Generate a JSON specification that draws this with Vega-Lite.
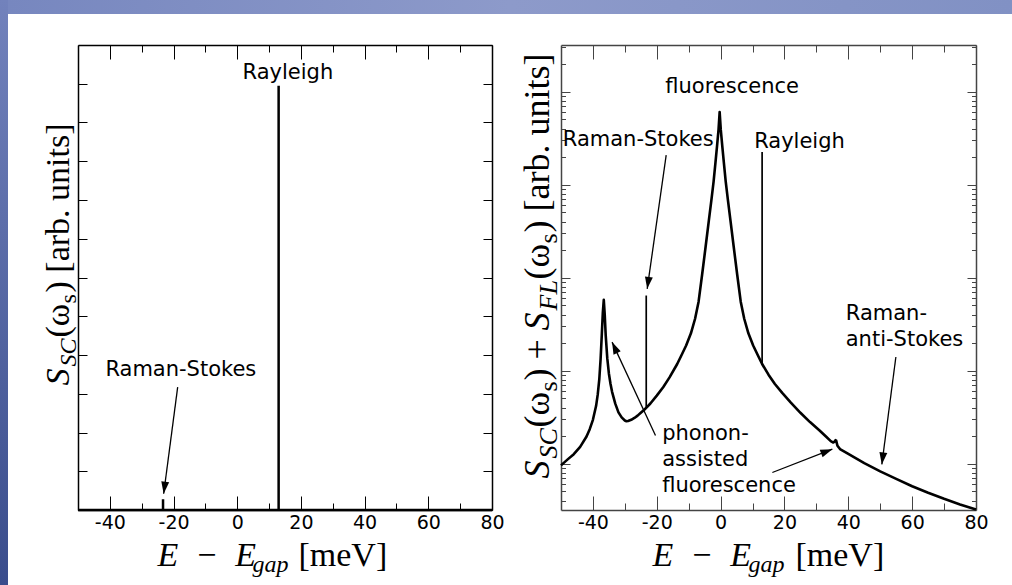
{
"$schema":"https://vega.github.io/schema/vega-lite/v6.json",
"padding":0,
"background":"#ffffff",
"config":{
  "view":{"stroke":null},
  "axis":{"grid":false,"labelFont":"DejaVu Sans","labelFontSize":19,"labelColor":"#000000","tickColor":"#000000","tickWidth":1,"domainColor":"#000000","domainWidth":1.5,"titleFont":"Liberation Serif","titleFontSize":34,"titleColor":"#000000","titleFontWeight":"normal","labelFlush":false,"labelOverlap":false},
  "text":{"font":"DejaVu Sans","fontSize":21,"color":"#000000"}
},
"bounds":"flush",
"spacing":0,
"hconcat":[
  {"width":8,"height":585,"data":{"values":[]},"mark":{"type":"point","opacity":0},
   "view":{"stroke":null,"fill":{"gradient":"linear","x1":0,"y1":0,"x2":0,"y2":1,"stops":[{"offset":0,"color":"#7282bc"},{"offset":1,"color":"#3a4d8c"}]}}},
  {"bounds":"flush","spacing":31,"vconcat":[
    {"width":1004,"height":14,"data":{"values":[]},"mark":{"type":"point","opacity":0},
     "view":{"stroke":null,"fill":{"gradient":"linear","x1":0,"y1":0,"x2":1,"y2":0,"stops":[{"offset":0,"color":"#7787bf"},{"offset":0.5,"color":"#8d9aca"},{"offset":1,"color":"#8191c4"}]}}},
    {"bounds":"flush","spacing":69,"hconcat":[
      {"width":1,"height":1,"data":{"values":[]},"mark":{"type":"point","opacity":0}},
      {"width":414,"height":465,
       "resolve":{"axis":{"x":"independent","y":"independent"}},
       "layer":[
        {"data":{"values":[{"i":0,"E":-50,"S":0},{"i":1,"E":-23.3,"S":0},{"i":2,"E":-23.3,"S":0.28},{"i":3,"E":-23.3,"S":0},{"i":4,"E":13,"S":0},{"i":5,"E":13,"S":10.95},{"i":6,"E":13,"S":0},{"i":7,"E":80,"S":0}]},
         "mark":{"type":"line","color":"#000000","strokeWidth":2.5},
         "encoding":{
           "x":{"field":"E","type":"quantitative","scale":{"domain":[-50,80],"nice":false,"zero":false},
                "axis":{"orient":"bottom","values":[-40,-30,-20,-10,0,10,20,30,40,50,60,70,80],"tickSize":{"condition":{"test":"datum.value % 20 === 0","value":-14},"value":-7},"labelExpr":"datum.value % 20 === 0 ? '' + datum.value : ''","labelPadding":17,"labelBaseline":"top","title":"E\u2002\u2212\u2002E","titleFontStyle":"italic","titleX":79,"titleY":55,"titleAlign":"left","titleBaseline":"alphabetic","titleAngle":0}},
           "y":{"field":"S","type":"quantitative","scale":{"domain":[0,12],"nice":false,"zero":false},
                "axis":{"orient":"left","values":[0,1,2,3,4,5,6,7,8,9,10,11,12],"tickSize":-9,"labels":false,"title":"S","titleFontStyle":"italic","titleX":-10,"titleY":340,"titleAngle":270,"titleAlign":"left","titleBaseline":"alphabetic"}},
           "order":{"field":"i","type":"quantitative"}}},
        {"data":{"values":[{"E":0,"S":1}]},"mark":{"type":"point","opacity":0},
         "encoding":{
           "x":{"field":"E","type":"quantitative","scale":{"domain":[-50,80],"nice":false,"zero":false},
                "axis":{"orient":"top","values":[-40,-30,-20,-10,0,10,20,30,40,50,60,70,80],"tickSize":{"condition":{"test":"datum.value % 20 === 0","value":-14},"value":-7},"labels":false,"title":null}},
           "y":{"field":"S","type":"quantitative","scale":{"domain":[0,12],"nice":false,"zero":false},
                "axis":{"orient":"right","values":[0,1,2,3,4,5,6,7,8,9,10,11,12],"tickSize":-9,"labels":false,"title":null}}}},
        {"data":{"values":[{"E":0,"S":1}]},"mark":{"type":"point","opacity":0},
         "encoding":{
           "x":{"field":"E","type":"quantitative","scale":{"domain":[-50,80],"nice":false,"zero":false},
                "axis":{"orient":"bottom","domain":false,"ticks":false,"labels":false,"title":"gap","titleFontStyle":"italic","titleFontSize":24,"titleX":174,"titleY":61,"titleAlign":"left","titleBaseline":"alphabetic","titleAngle":0}},
           "y":{"field":"S","type":"quantitative","scale":{"domain":[0,12],"nice":false,"zero":false},
                "axis":{"orient":"left","domain":false,"ticks":false,"labels":false,"title":"SC","titleFontStyle":"italic","titleFontSize":24,"titleX":-3,"titleY":321,"titleAngle":270,"titleAlign":"left","titleBaseline":"alphabetic"}}}},
        {"data":{"values":[{"E":0,"S":1}]},"mark":{"type":"point","opacity":0},
         "encoding":{
           "x":{"field":"E","type":"quantitative","scale":{"domain":[-50,80],"nice":false,"zero":false},
                "axis":{"orient":"bottom","domain":false,"ticks":false,"labels":false,"title":"[meV]","titleFontStyle":"normal","titleX":220,"titleY":55,"titleAlign":"left","titleBaseline":"alphabetic","titleAngle":0}},
           "y":{"field":"S","type":"quantitative","scale":{"domain":[0,12],"nice":false,"zero":false},
                "axis":{"orient":"left","domain":false,"ticks":false,"labels":false,"title":"(ω","titleFontStyle":"normal","titleX":-10,"titleY":292,"titleAngle":270,"titleAlign":"left","titleBaseline":"alphabetic"}}}},
        {"data":{"values":[{"E":0,"S":1}]},"mark":{"type":"point","opacity":0},
         "encoding":{
           "x":{"field":"E","type":"quantitative","scale":{"domain":[-50,80],"nice":false,"zero":false},"axis":null},
           "y":{"field":"S","type":"quantitative","scale":{"domain":[0,12],"nice":false,"zero":false},
                "axis":{"orient":"left","domain":false,"ticks":false,"labels":false,"title":"s","titleFontStyle":"normal","titleFontSize":24,"titleX":-3,"titleY":258,"titleAngle":270,"titleAlign":"left","titleBaseline":"alphabetic"}}}},
        {"data":{"values":[{"E":0,"S":1}]},"mark":{"type":"point","opacity":0},
         "encoding":{
           "x":{"field":"E","type":"quantitative","scale":{"domain":[-50,80],"nice":false,"zero":false},"axis":null},
           "y":{"field":"S","type":"quantitative","scale":{"domain":[0,12],"nice":false,"zero":false},
                "axis":{"orient":"left","domain":false,"ticks":false,"labels":false,"title":") [arb. units]","titleFontStyle":"normal","titleX":-10,"titleY":247,"titleAngle":270,"titleAlign":"left","titleBaseline":"alphabetic"}}}},
        {"data":{"values":[{"label":"Rayleigh","E":15.9,"S":11.13},{"label":"Raman-Stokes","E":-17.7,"S":3.46}]},
         "mark":{"type":"text","align":"center","baseline":"alphabetic","font":"DejaVu Sans","fontSize":21,"color":"#000000"},
         "encoding":{
           "x":{"field":"E","type":"quantitative","scale":{"domain":[-50,80],"nice":false,"zero":false},"axis":null},
           "y":{"field":"S","type":"quantitative","scale":{"domain":[0,12],"nice":false,"zero":false},"axis":null},
           "text":{"field":"label"}}},
        {"data":{"values":[{"id":"l","E":-18.7,"S":3.17,"E2":-23.1,"S2":0.42}]},
         "mark":{"type":"rule","color":"#000000","strokeWidth":1.3},
         "encoding":{
           "x":{"field":"E","type":"quantitative","scale":{"domain":[-50,80],"nice":false,"zero":false},"axis":null},
           "y":{"field":"S","type":"quantitative","scale":{"domain":[0,12],"nice":false,"zero":false},"axis":null},
           "x2":{"field":"E2"},"y2":{"field":"S2"}}},
        {"data":{"values":[{"id":"l","E":-18.7,"S":3.17,"E2":-23.1,"S2":0.42}]},
         "mark":{"type":"point","shape":"M0,0L-0.33,1L0.33,1Z","size":576,"filled":true,"color":"#000000","opacity":1,"angle":187.5},
         "encoding":{
           "x":{"field":"E2","type":"quantitative","scale":{"domain":[-50,80],"nice":false,"zero":false},"axis":null},
           "y":{"field":"S2","type":"quantitative","scale":{"domain":[0,12],"nice":false,"zero":false},"axis":null}}}
       ]},
      {"width":415,"height":465,
       "resolve":{"axis":{"x":"independent","y":"independent"}},
       "layer":[
        {"data":{"values":[
          {"E":-50,"S":0.955},{"E":-48,"S":1.10},{"E":-46,"S":1.26},{"E":-44,"S":1.51},{"E":-42,"S":1.95},{"E":-41,"S":2.34},{"E":-40,"S":2.95},{"E":-39,"S":4.17},{"E":-38.5,"S":5.5},{"E":-38,"S":8.1},{"E":-37.6,"S":13.2},{"E":-37.2,"S":25.1},{"E":-36.9,"S":41.7},{"E":-36.6,"S":57.5},{"E":-36.3,"S":39.8},{"E":-36.0,"S":24.0},{"E":-35.5,"S":13.5},{"E":-35.0,"S":9.3},{"E":-34.5,"S":7.2},{"E":-34,"S":5.9},{"E":-33,"S":4.4},{"E":-32,"S":3.55},{"E":-31,"S":3.13},{"E":-30,"S":2.90},{"E":-29.5,"S":2.85},{"E":-29,"S":2.86},{"E":-28,"S":2.95},{"E":-27,"S":3.09},{"E":-26,"S":3.27},{"E":-25,"S":3.51},{"E":-24,"S":3.76},{"E":-23,"S":4.07},{"E":-22,"S":4.42},{"E":-20,"S":5.37},{"E":-18,"S":6.61},{"E":-16,"S":8.43},{"E":-13.6,"S":11.75},{"E":-12.3,"S":14.5},{"E":-10.8,"S":18.6},{"E":-9.3,"S":25.1},{"E":-8.0,"S":36.0},{"E":-6.9,"S":55.0},{"E":-5.8,"S":107},{"E":-4.7,"S":214},{"E":-3.7,"S":407},{"E":-2.9,"S":676},{"E":-2.2,"S":1072},{"E":-1.6,"S":1738},{"E":-1.1,"S":2630},{"E":-0.65,"S":3890},{"E":-0.3,"S":6026},{"E":0.05,"S":3890},{"E":0.5,"S":2630},{"E":1.0,"S":1738},{"E":1.6,"S":1072},{"E":2.3,"S":676},{"E":3.1,"S":407},{"E":4.1,"S":214},{"E":5.2,"S":107},{"E":6.3,"S":55.0},{"E":7.4,"S":36.0},{"E":8.7,"S":25.1},{"E":10.2,"S":18.6},{"E":11.7,"S":14.5},{"E":13.0,"S":11.75},{"E":15,"S":9.02},{"E":17,"S":7.16},{"E":19.3,"S":5.75},{"E":22,"S":4.52},{"E":25,"S":3.51},{"E":28,"S":2.79},{"E":31,"S":2.26},{"E":33,"S":1.95},{"E":34.5,"S":1.74},{"E":35.3,"S":1.68},{"E":35.7,"S":1.72},{"E":36.0,"S":1.78},{"E":36.2,"S":1.76},{"E":36.6,"S":1.55},{"E":37.4,"S":1.43},{"E":40,"S":1.27},{"E":45,"S":1.01},{"E":50,"S":0.822},{"E":55,"S":0.684},{"E":60,"S":0.569},{"E":65,"S":0.484},{"E":70,"S":0.417},{"E":75,"S":0.363},{"E":80,"S":0.320}]},
         "mark":{"type":"line","color":"#000000","strokeWidth":2.6,"strokeJoin":"round"},
         "encoding":{
           "x":{"field":"E","type":"quantitative","scale":{"domain":[-50,80],"nice":false,"zero":false},
                "axis":{"orient":"bottom","values":[-40,-30,-20,-10,0,10,20,30,40,50,60,70,80],"tickSize":{"condition":{"test":"datum.value % 20 === 0","value":-14},"value":-7},"labelExpr":"datum.value % 20 === 0 ? '' + datum.value : ''","labelPadding":17,"labelBaseline":"top","domainColor":"#444444","tickColor":"#444444","title":"E\u2002\u2212\u2002E","titleFontStyle":"italic","titleX":91,"titleY":55,"titleAlign":"left","titleBaseline":"alphabetic","titleAngle":0}},
           "y":{"field":"S","type":"quantitative","scale":{"type":"log","domain":[0.3162278,31622.78],"nice":false},
                "axis":{"orient":"left","values":[0.4,0.5,0.6,0.7,0.8,0.9,1,2,3,4,5,6,7,8,9,10,20,30,40,50,60,70,80,90,100,200,300,400,500,600,700,800,900,1000,2000,3000,4000,5000,6000,7000,8000,9000,10000,20000,30000],"tickSize":{"condition":{"test":"abs(log(datum.value)/LN10 - round(log(datum.value)/LN10)) < 0.001","value":-9},"value":-4.5},"labels":false,"domainColor":"#444444","tickColor":"#444444","title":"S","titleFontStyle":"italic","titleFontSize":36,"titleX":-13,"titleY":433,"titleAngle":270,"titleAlign":"left","titleBaseline":"alphabetic"}}}},
        {"data":{"values":[{"E":0,"S":1}]},"mark":{"type":"point","opacity":0},
         "encoding":{
           "x":{"field":"E","type":"quantitative","scale":{"domain":[-50,80],"nice":false,"zero":false},
                "axis":{"orient":"top","values":[-40,-30,-20,-10,0,10,20,30,40,50,60,70,80],"tickSize":{"condition":{"test":"datum.value % 20 === 0","value":-14},"value":-7},"labels":false,"domainColor":"#444444","tickColor":"#444444","title":null}},
           "y":{"field":"S","type":"quantitative","scale":{"type":"log","domain":[0.3162278,31622.78],"nice":false},
                "axis":{"orient":"right","values":[0.4,0.5,0.6,0.7,0.8,0.9,1,2,3,4,5,6,7,8,9,10,20,30,40,50,60,70,80,90,100,200,300,400,500,600,700,800,900,1000,2000,3000,4000,5000,6000,7000,8000,9000,10000,20000,30000],"tickSize":{"condition":{"test":"abs(log(datum.value)/LN10 - round(log(datum.value)/LN10)) < 0.001","value":-9},"value":-4.5},"labels":false,"domainColor":"#444444","tickColor":"#444444","title":null}}}},
        {"data":{"values":[{"E":0,"S":1}]},"mark":{"type":"point","opacity":0},
         "encoding":{
           "x":{"field":"E","type":"quantitative","scale":{"domain":[-50,80],"nice":false,"zero":false},
                "axis":{"orient":"bottom","domain":false,"ticks":false,"labels":false,"title":"gap","titleFontStyle":"italic","titleFontSize":24,"titleX":187,"titleY":61,"titleAlign":"left","titleBaseline":"alphabetic","titleAngle":0}},
           "y":{"field":"S","type":"quantitative","scale":{"type":"log","domain":[0.3162278,31622.78],"nice":false},
                "axis":{"orient":"left","domain":false,"ticks":false,"labels":false,"title":"SC","titleFontStyle":"italic","titleFontSize":26,"titleX":-5,"titleY":413,"titleAngle":270,"titleAlign":"left","titleBaseline":"alphabetic"}}}},
        {"data":{"values":[{"E":0,"S":1}]},"mark":{"type":"point","opacity":0},
         "encoding":{
           "x":{"field":"E","type":"quantitative","scale":{"domain":[-50,80],"nice":false,"zero":false},
                "axis":{"orient":"bottom","domain":false,"ticks":false,"labels":false,"title":"[meV]","titleFontStyle":"normal","titleX":234,"titleY":55,"titleAlign":"left","titleBaseline":"alphabetic","titleAngle":0}},
           "y":{"field":"S","type":"quantitative","scale":{"type":"log","domain":[0.3162278,31622.78],"nice":false},
                "axis":{"orient":"left","domain":false,"ticks":false,"labels":false,"title":"(ω","titleFontStyle":"normal","titleFontSize":36,"titleX":-13,"titleY":382,"titleAngle":270,"titleAlign":"left","titleBaseline":"alphabetic"}}}},
        {"data":{"values":[{"E":0,"S":1}]},"mark":{"type":"point","opacity":0},
         "encoding":{
           "x":{"field":"E","type":"quantitative","scale":{"domain":[-50,80],"nice":false,"zero":false},"axis":null},
           "y":{"field":"S","type":"quantitative","scale":{"type":"log","domain":[0.3162278,31622.78],"nice":false},
                "axis":{"orient":"left","domain":false,"ticks":false,"labels":false,"title":"s","titleFontStyle":"normal","titleFontSize":26,"titleX":-5,"titleY":346,"titleAngle":270,"titleAlign":"left","titleBaseline":"alphabetic"}}}},
        {"data":{"values":[{"E":0,"S":1}]},"mark":{"type":"point","opacity":0},
         "encoding":{
           "x":{"field":"E","type":"quantitative","scale":{"domain":[-50,80],"nice":false,"zero":false},"axis":null},
           "y":{"field":"S","type":"quantitative","scale":{"type":"log","domain":[0.3162278,31622.78],"nice":false},
                "axis":{"orient":"left","domain":false,"ticks":false,"labels":false,"title":")\u00a0+","titleFontStyle":"normal","titleFontSize":36,"titleX":-13,"titleY":335,"titleAngle":270,"titleAlign":"left","titleBaseline":"alphabetic"}}}},
        {"data":{"values":[{"E":0,"S":1}]},"mark":{"type":"point","opacity":0},
         "encoding":{
           "x":{"field":"E","type":"quantitative","scale":{"domain":[-50,80],"nice":false,"zero":false},"axis":null},
           "y":{"field":"S","type":"quantitative","scale":{"type":"log","domain":[0.3162278,31622.78],"nice":false},
                "axis":{"orient":"left","domain":false,"ticks":false,"labels":false,"title":"S","titleFontStyle":"italic","titleFontSize":36,"titleX":-13,"titleY":285,"titleAngle":270,"titleAlign":"left","titleBaseline":"alphabetic"}}}},
        {"data":{"values":[{"E":0,"S":1}]},"mark":{"type":"point","opacity":0},
         "encoding":{
           "x":{"field":"E","type":"quantitative","scale":{"domain":[-50,80],"nice":false,"zero":false},"axis":null},
           "y":{"field":"S","type":"quantitative","scale":{"type":"log","domain":[0.3162278,31622.78],"nice":false},
                "axis":{"orient":"left","domain":false,"ticks":false,"labels":false,"title":"FL","titleFontStyle":"italic","titleFontSize":26,"titleX":-5,"titleY":265,"titleAngle":270,"titleAlign":"left","titleBaseline":"alphabetic"}}}},
        {"data":{"values":[{"E":0,"S":1}]},"mark":{"type":"point","opacity":0},
         "encoding":{
           "x":{"field":"E","type":"quantitative","scale":{"domain":[-50,80],"nice":false,"zero":false},"axis":null},
           "y":{"field":"S","type":"quantitative","scale":{"type":"log","domain":[0.3162278,31622.78],"nice":false},
                "axis":{"orient":"left","domain":false,"ticks":false,"labels":false,"title":"(ω","titleFontStyle":"normal","titleFontSize":36,"titleX":-13,"titleY":234,"titleAngle":270,"titleAlign":"left","titleBaseline":"alphabetic"}}}},
        {"data":{"values":[{"E":0,"S":1}]},"mark":{"type":"point","opacity":0},
         "encoding":{
           "x":{"field":"E","type":"quantitative","scale":{"domain":[-50,80],"nice":false,"zero":false},"axis":null},
           "y":{"field":"S","type":"quantitative","scale":{"type":"log","domain":[0.3162278,31622.78],"nice":false},
                "axis":{"orient":"left","domain":false,"ticks":false,"labels":false,"title":"s","titleFontStyle":"normal","titleFontSize":26,"titleX":-5,"titleY":198,"titleAngle":270,"titleAlign":"left","titleBaseline":"alphabetic"}}}},
        {"data":{"values":[{"E":0,"S":1}]},"mark":{"type":"point","opacity":0},
         "encoding":{
           "x":{"field":"E","type":"quantitative","scale":{"domain":[-50,80],"nice":false,"zero":false},"axis":null},
           "y":{"field":"S","type":"quantitative","scale":{"type":"log","domain":[0.3162278,31622.78],"nice":false},
                "axis":{"orient":"left","domain":false,"ticks":false,"labels":false,"title":") [arb. units]","titleFontStyle":"normal","titleFontSize":36,"titleX":-13,"titleY":187,"titleAngle":270,"titleAlign":"left","titleBaseline":"alphabetic"}}}},
        {"data":{"values":[{"E":-23.3,"lo":3.97,"hi":64},{"E":13,"lo":11.75,"hi":2239}]},
         "mark":{"type":"rule","color":"#000000","strokeWidth":1.7},
         "encoding":{
           "x":{"field":"E","type":"quantitative","scale":{"domain":[-50,80],"nice":false,"zero":false},"axis":null},
           "y":{"field":"lo","type":"quantitative","scale":{"type":"log","domain":[0.3162278,31622.78],"nice":false},"axis":null},
           "y2":{"field":"hi"}}},
        {"data":{"values":[{"label":"fluorescence","E":3.6,"S":9727},{"label":"Raman-Stokes","E":-25.8,"S":2564},{"label":"Rayleigh","E":24.7,"S":2489}]},
         "mark":{"type":"text","align":"center","baseline":"alphabetic","font":"DejaVu Sans","fontSize":21,"color":"#000000"},
         "encoding":{
           "x":{"field":"E","type":"quantitative","scale":{"domain":[-50,80],"nice":false,"zero":false},"axis":null},
           "y":{"field":"S","type":"quantitative","scale":{"type":"log","domain":[0.3162278,31622.78],"nice":false},"axis":null},
           "text":{"field":"label"}}},
        {"data":{"values":[{"label":"Raman-","E":39.2,"S":35.3},{"label":"anti-Stokes","E":39.2,"S":18.3},{"label":"phonon-","E":-18.3,"S":1.787},{"label":"assisted","E":-18.3,"S":0.94},{"label":"fluorescence","E":-18.3,"S":0.494}]},
         "mark":{"type":"text","align":"left","baseline":"alphabetic","font":"DejaVu Sans","fontSize":21,"color":"#000000"},
         "encoding":{
           "x":{"field":"E","type":"quantitative","scale":{"domain":[-50,80],"nice":false,"zero":false},"axis":null},
           "y":{"field":"S","type":"quantitative","scale":{"type":"log","domain":[0.3162278,31622.78],"nice":false},"axis":null},
           "text":{"field":"label"}}},
        {"data":{"values":[{"id":"rs","E":-17.05,"S":2065,"E2":-23.0,"S2":75.5},{"id":"ph1","E":-20.4,"S":2.0,"E2":-34.0,"S2":20.2},{"id":"ph2","E":16.2,"S":0.80,"E2":35.0,"S2":1.426},{"id":"as","E":54.9,"S":13.96,"E2":50.5,"S2":0.977}]},
         "mark":{"type":"rule","color":"#000000","strokeWidth":1.3},
         "encoding":{
           "x":{"field":"E","type":"quantitative","scale":{"domain":[-50,80],"nice":false,"zero":false},"axis":null},
           "y":{"field":"S","type":"quantitative","scale":{"type":"log","domain":[0.3162278,31622.78],"nice":false},"axis":null},
           "x2":{"field":"E2"},"y2":{"field":"S2"}}},
        {"data":{"values":[{"id":"rs","E2":-23.0,"S2":75.5}]},
         "mark":{"type":"point","shape":"M0,0L-0.33,1L0.33,1Z","size":576,"filled":true,"color":"#000000","opacity":1,"angle":188.1},
         "encoding":{
           "x":{"field":"E2","type":"quantitative","scale":{"domain":[-50,80],"nice":false,"zero":false},"axis":null},
           "y":{"field":"S2","type":"quantitative","scale":{"type":"log","domain":[0.3162278,31622.78],"nice":false},"axis":null}}},
        {"data":{"values":[{"id":"ph1","E2":-34.0,"S2":20.2}]},
         "mark":{"type":"point","shape":"M0,0L-0.33,1L0.33,1Z","size":576,"filled":true,"color":"#000000","opacity":1,"angle":335.2},
         "encoding":{
           "x":{"field":"E2","type":"quantitative","scale":{"domain":[-50,80],"nice":false,"zero":false},"axis":null},
           "y":{"field":"S2","type":"quantitative","scale":{"type":"log","domain":[0.3162278,31622.78],"nice":false},"axis":null}}},
        {"data":{"values":[{"id":"ph2","E2":35.0,"S2":1.426}]},
         "mark":{"type":"point","shape":"M0,0L-0.33,1L0.33,1Z","size":576,"filled":true,"color":"#000000","opacity":1,"angle":68.7},
         "encoding":{
           "x":{"field":"E2","type":"quantitative","scale":{"domain":[-50,80],"nice":false,"zero":false},"axis":null},
           "y":{"field":"S2","type":"quantitative","scale":{"type":"log","domain":[0.3162278,31622.78],"nice":false},"axis":null}}},
        {"data":{"values":[{"id":"as","E2":50.5,"S2":0.977}]},
         "mark":{"type":"point","shape":"M0,0L-0.33,1L0.33,1Z","size":576,"filled":true,"color":"#000000","opacity":1,"angle":187.4},
         "encoding":{
           "x":{"field":"E2","type":"quantitative","scale":{"domain":[-50,80],"nice":false,"zero":false},"axis":null},
           "y":{"field":"S2","type":"quantitative","scale":{"type":"log","domain":[0.3162278,31622.78],"nice":false},"axis":null}}}
       ]}
    ]}
  ]}
]
}
